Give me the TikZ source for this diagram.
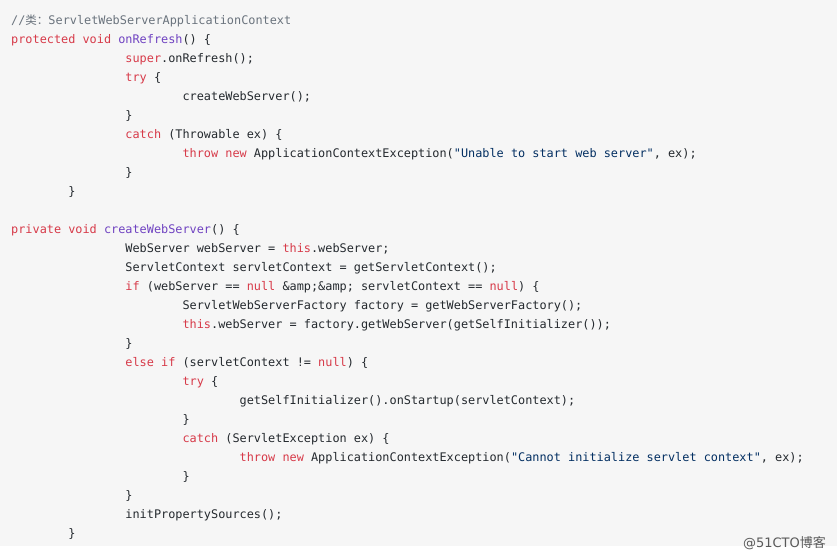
\documentclass[tikz,border=0pt]{standalone}
\usepackage{fontspec}
\setmonofont{DejaVu Sans Mono}
\setsansfont{DejaVu Sans}
\newfontfamily\cjk{Noto Sans CJK SC}
\definecolor{bgc}{HTML}{F6F6F6}
\definecolor{kwc}{HTML}{D73A49}
\definecolor{fnc}{HTML}{6F42C1}
\definecolor{stc}{HTML}{032F62}
\definecolor{cmc}{HTML}{6A737D}
\definecolor{txc}{HTML}{24292E}
\newcommand\kw[1]{\textcolor{kwc}{#1}}
\newcommand\fn[1]{\textcolor{fnc}{#1}}
\newcommand\st[1]{\textcolor{stc}{#1}}
\newcommand\LB{\{}
\newcommand\RB{\}}
\begin{document}
\begin{tikzpicture}[x=1pt,y=-1pt,
  code/.style={anchor=base west,inner sep=0pt,font=\ttfamily\fontsize{11.86}{12}\selectfont,text=txc}]
\useasboundingbox (0,0) rectangle (837,559);
\fill[bgc] (0,0) rectangle (837,546);
\fill[white] (0,546) rectangle (837,559);
\def\cw{7.14}
\newcommand\cl[4]{\node[code] (#1) at ({11+#2*\cw},{#3+4.5}) {#4};}
\cl{l1}{0}{20}{\textcolor{cmc}{//{\cjk\fontsize{11.5}{12}\selectfont 类：}ServletWebServerApplicationContext}}
\cl{l2}{0}{39}{\kw{protected} \kw{void} \fn{onRefresh}() \LB}
\cl{l3}{16}{58}{\kw{super}.onRefresh();}
\cl{l4}{16}{77}{\kw{try} \LB}
\cl{l5}{24}{96}{createWebServer();}
\cl{l6}{16}{115}{\RB}
\cl{l7}{16}{134}{\kw{catch} (Throwable ex) \LB}
\cl{l8}{24}{153}{\kw{throw} \kw{new} ApplicationContextException(\st{"Unable to start web server"}, ex);}
\cl{l9}{16}{172}{\RB}
\cl{l10}{8}{191}{\RB}
\cl{l11}{0}{229}{\kw{private} \kw{void} \fn{createWebServer}() \LB}
\cl{l12}{16}{248}{WebServer webServer = \kw{this}.webServer;}
\cl{l13}{16}{267}{ServletContext servletContext = getServletContext();}
\cl{l14}{16}{286}{\kw{if} (webServer == \kw{null} \&amp;\&amp; servletContext == \kw{null}) \LB}
\cl{l15}{24}{305}{ServletWebServerFactory factory = getWebServerFactory();}
\cl{l16}{24}{324}{\kw{this}.webServer = factory.getWebServer(getSelfInitializer());}
\cl{l17}{16}{343}{\RB}
\cl{l18}{16}{362}{\kw{else} \kw{if} (servletContext != \kw{null}) \LB}
\cl{l19}{24}{381}{\kw{try} \LB}
\cl{l20}{32}{400}{getSelfInitializer().onStartup(servletContext);}
\cl{l21}{24}{419}{\RB}
\cl{l22}{24}{438}{\kw{catch} (ServletException ex) \LB}
\cl{l23}{32}{457}{\kw{throw} \kw{new} ApplicationContextException(\st{"Cannot initialize servlet context"}, ex);}
\cl{l24}{24}{476}{\RB}
\cl{l25}{16}{495}{\RB}
\cl{l26}{16}{514}{initPropertySources();}
\cl{l27}{8}{533}{\RB}
\node[anchor=base east,inner sep=0pt,text=black!65,font=\sffamily\fontsize{13}{13}\selectfont] (wm) at (826,547) {@51CTO{\cjk 博客}};
\end{tikzpicture}
\end{document}
